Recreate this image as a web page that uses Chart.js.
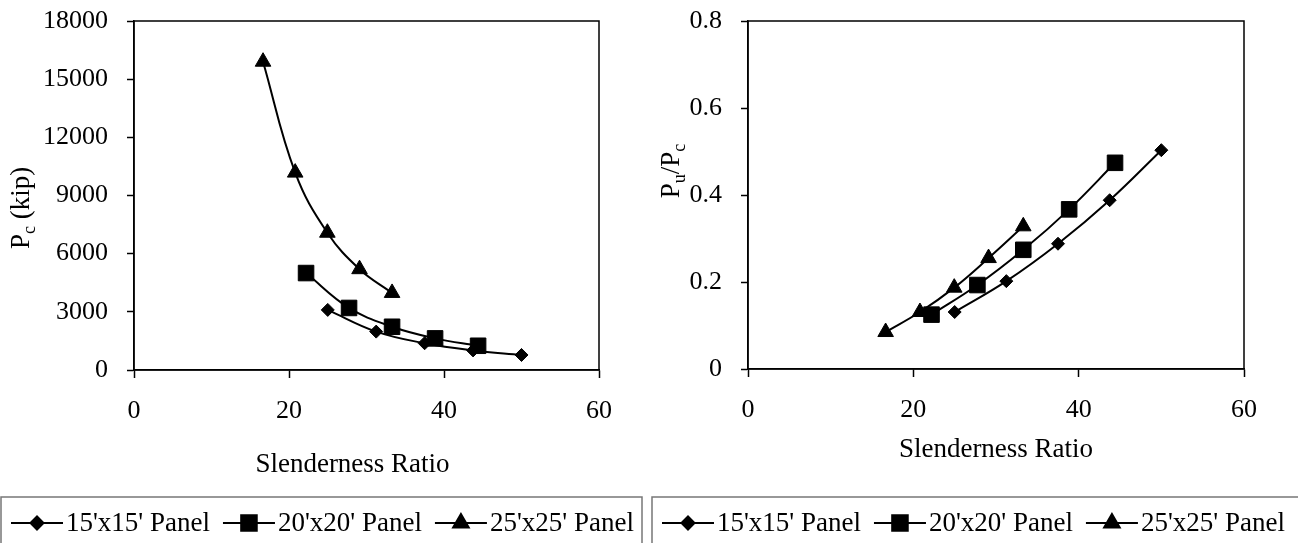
<!DOCTYPE html>
<html>
<head>
<meta charset="utf-8">
<script src="https://cdn.jsdelivr.net/npm/chart.js@4.4.1/dist/chart.umd.min.js"></script>
<style>
  body { margin: 0; background: #fff; }
  #contenedor { position: relative; width: 1298px; height: 543px; overflow: hidden; background: #fff; }
  canvas { position: absolute; top: 0; }
</style>
</head>
<body>
<div id="contenedor">
  <canvas id="graficoPc" width="650" height="543" style="left:0px"></canvas>
  <canvas id="graficoRatio" width="648" height="543" style="left:650px"></canvas>
</div>
<script>
// --- DATOS ---
const etiquetasSeries = ["15'x15' Panel", "20'x20' Panel", "25'x25' Panel"];

const esbeltez15 = [25, 31.25, 37.5, 43.75, 50];
const esbeltez20 = [22.2, 27.75, 33.3, 38.85, 44.4];
const esbeltez25 = [16.65, 20.8, 24.95, 29.1, 33.3];

const pc15 = [3100, 1980, 1380, 1010, 775];
const pc20 = [5000, 3200, 2230, 1630, 1250];
const pc25 = [15900, 10180, 7080, 5200, 3975];

const razon15 = [0.131, 0.202, 0.288, 0.388, 0.503];
const razon20 = [0.125, 0.193, 0.274, 0.367, 0.474];
const razon25 = [0.085, 0.131, 0.187, 0.255, 0.328];

const ticksX = [0, 20, 40, 60];
const ticksPc = [0, 3000, 6000, 9000, 12000, 15000, 18000];
const ticksRazon = [0, 0.2, 0.4, 0.6, 0.8];

// --- ESTILO ---
const FUENTE = '"Liberation Serif", "Times New Roman", serif';
const marcadores = ['rectRot', 'rect', 'triangle'];
const radios = [6.5, 11, 9];
Chart.defaults.font.family = FUENTE;
Chart.defaults.color = '#000';

function puntos(xs, ys) {
    return xs.map((x, i) => ({ x: x, y: ys[i] }));
}

function armarDatasets(listaX, listaY) {
    return listaY.map((ys, idx) => ({
        label: etiquetasSeries[idx],
        data: puntos(listaX[idx], ys),
        showLine: true,
        borderColor: '#000',
        borderWidth: 2,
        tension: 0.4,
        pointStyle: marcadores[idx],
        pointRadius: radios[idx],
        pointBackgroundColor: '#000',
        pointBorderColor: '#000',
        pointBorderWidth: 1
    }));
}

// marco del area, titulos con subindices y leyenda en caja
const pluginMarco = {
    id: 'marco',
    afterDraw(chart, args, o) {
        const ctx = chart.ctx;
        const a = chart.chartArea;
        ctx.save();
        ctx.strokeStyle = '#000';
        ctx.lineWidth = 1.5;
        ctx.strokeRect(a.left, a.top, a.right - a.left, a.bottom - a.top);

        // titulo eje X
        ctx.fillStyle = '#000';
        ctx.font = '27px ' + FUENTE;
        ctx.textAlign = 'center';
        ctx.textBaseline = 'alphabetic';
        ctx.fillText(o.tituloX, (a.left + a.right) / 2 + o.tituloXdx, o.tituloXy);

        // titulo eje Y (rotado, con subindices)
        ctx.save();
        ctx.translate(o.tituloYx, o.tituloYy);
        ctx.rotate(-Math.PI / 2);
        ctx.textAlign = 'left';
        let total = 0;
        o.tituloY.forEach(p => {
            ctx.font = (p.sub ? '18px ' : '27px ') + FUENTE;
            p.w = ctx.measureText(p.t).width;
            total += p.w;
        });
        let px = -total / 2;
        o.tituloY.forEach(p => {
            ctx.font = (p.sub ? '18px ' : '27px ') + FUENTE;
            ctx.fillText(p.t, px, p.sub ? 6 : 0);
            px += p.w;
        });
        ctx.restore();

        // leyenda
        const L = o.leyenda;
        ctx.strokeStyle = '#777';
        ctx.lineWidth = 1.5;
        ctx.strokeRect(L.x, L.y, L.w, 120);
        ctx.font = '27px ' + FUENTE;
        ctx.textBaseline = 'middle';
        ctx.textAlign = 'left';
        let lx = L.x + 10;
        chart.data.datasets.forEach(ds => {
            ctx.strokeStyle = '#000';
            ctx.lineWidth = 2;
            ctx.beginPath();
            ctx.moveTo(lx, L.cy);
            ctx.lineTo(lx + 52, L.cy);
            ctx.stroke();
            ctx.fillStyle = '#000';
            Chart.helpers.drawPoint(ctx, {
                pointStyle: ds.pointStyle, radius: ds.pointRadius, rotation: 0, borderWidth: 1
            }, lx + 26, L.cy);
            ctx.fillStyle = '#000';
            ctx.fillText(ds.label, lx + 55, L.cy + 1);
            lx += 55 + ctx.measureText(ds.label).width + 13;
        });
        ctx.restore();
    }
};

function crearGrafico(idCanvas, datasets, cfg) {
    const lienzo = document.getElementById(idCanvas);
    const W = lienzo.width, H = lienzo.height;
    const area = cfg.area;
    return new Chart(lienzo.getContext('2d'), {
        type: 'scatter',
        data: { datasets: datasets },
        options: {
            responsive: false,
            animation: false,
            devicePixelRatio: 1,
            layout: { padding: { left: 0, top: area.top, right: W - area.right, bottom: 0 } },
            plugins: {
                legend: { display: false },
                tooltip: { enabled: false },
                marco: cfg.marco
            },
            scales: {
                x: {
                    type: 'linear',
                    min: ticksX[0],
                    max: ticksX[ticksX.length - 1],
                    afterBuildTicks: s => { s.ticks = ticksX.map(v => ({ value: v })); },
                    ticks: { font: { size: 26 }, color: '#000', padding: 18, maxRotation: 0 },
                    grid: { drawOnChartArea: false, tickLength: 8, tickColor: '#000', tickWidth: 1.5 },
                    border: { color: '#000', width: 1.5 },
                    afterFit: s => { s.height = H - area.bottom; s.paddingLeft = 0; s.paddingRight = 0; }
                },
                y: {
                    min: cfg.ticksY[0],
                    max: cfg.ticksY[cfg.ticksY.length - 1],
                    afterBuildTicks: s => { s.ticks = cfg.ticksY.map(v => ({ value: v })); },
                    ticks: {
                        font: { size: 26 }, color: '#000', padding: 19,
                        callback: v => String(Number(v.toFixed(1)))
                    },
                    grid: { drawOnChartArea: false, tickLength: 7, tickColor: '#000', tickWidth: 1.5 },
                    border: { color: '#000', width: 1.5 },
                    afterFit: s => { s.width = area.left; s.paddingTop = 0; s.paddingBottom = 0; }
                }
            }
        },
        plugins: [pluginMarco]
    });
}

crearGrafico('graficoPc',
    armarDatasets([esbeltez15, esbeltez20, esbeltez25], [pc15, pc20, pc25]),
    {
        area: { left: 134, right: 599, top: 21, bottom: 370 },
        ticksY: ticksPc,
        marco: {
            tituloX: 'Slenderness Ratio', tituloXdx: -14, tituloXy: 472,
            tituloY: [{ t: 'P' }, { t: 'c', sub: true }, { t: ' (kip)' }],
            tituloYx: 29, tituloYy: 208,
            leyenda: { x: 1, y: 497, w: 641, cy: 523 }
        }
    });

crearGrafico('graficoRatio',
    armarDatasets([esbeltez15, esbeltez20, esbeltez25], [razon15, razon20, razon25]),
    {
        area: { left: 98, right: 594, top: 21, bottom: 369 },
        ticksY: ticksRazon,
        marco: {
            tituloX: 'Slenderness Ratio', tituloXdx: 0, tituloXy: 457,
            tituloY: [{ t: 'P' }, { t: 'u', sub: true }, { t: '/P' }, { t: 'c', sub: true }],
            tituloYx: 29, tituloYy: 171,
            leyenda: { x: 2, y: 497, w: 700, cy: 523 }
        }
    });
</script>
</body>
</html>
